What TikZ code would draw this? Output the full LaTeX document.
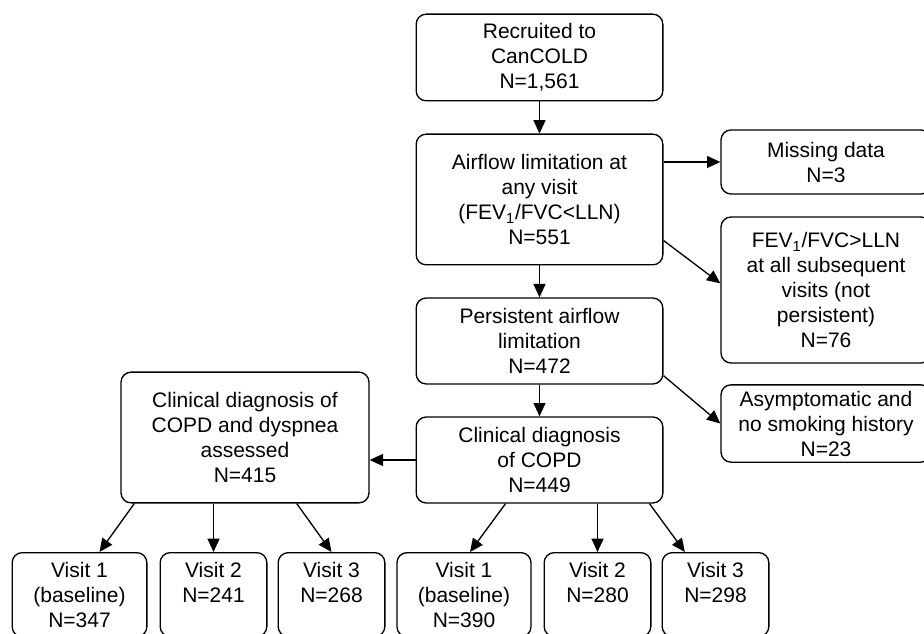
\documentclass[tikz,border=0pt]{standalone}
\usepackage{fontspec}
\setmainfont{Liberation Sans}
\usetikzlibrary{arrows.meta}

\begin{document}
\begin{tikzpicture}[x=0.75pt,y=0.75pt,yscale=-1,xscale=1,
  box/.style={draw, line width=1pt, rounded corners=7.5pt, align=center,
    font=\fontsize{15.75}{18.75}\selectfont, inner sep=2pt},
  visitbox/.style={box, anchor=north, inner ysep=7pt},
  arr/.style={line width=1pt, -{Triangle[length=10pt,width=9pt]}}]

\useasboundingbox (0,0) rectangle (924,634);

\node (recruit) at (539.5,57.5) [box, minimum width=185pt, minimum height=65pt] {Recruited to\\CanCOLD\\N=1,561};
\node (airflow) at (539.5,199.5) [box, minimum width=185pt, minimum height=98pt] {Airflow limitation at\\any visit\\(FEV\textsubscript{1}/FVC<LLN)\\N=551};
\node (persist) at (539.5,341) [box, minimum width=185pt, minimum height=64.5pt] {Persistent airflow\\limitation\\N=472};
\node (copd) at (539.5,460) [box, minimum width=185pt, minimum height=64.5pt] {Clinical diagnosis\\of COPD\\N=449};
\node (dysp) at (245,437.5) [box, minimum width=186pt, minimum height=98pt] {Clinical diagnosis of\\COPD and dyspnea\\assessed\\N=415};

\node (missing) at (826,162) [box, minimum width=157.5pt, minimum height=48pt] {Missing data\\N=3};
\node (fev) at (826,290) [box, minimum width=157.5pt, minimum height=109.5pt] {FEV\textsubscript{1}/FVC>LLN\\at all subsequent\\visits (not\\persistent)\\N=76};
\node (asym) at (826,423.5) [box, minimum width=157.5pt, minimum height=58pt] {Asymptomatic and\\no smoking history\\N=23};

\node (v1a) at (79.5,552) [visitbox, minimum width=101pt] {Visit 1\\(baseline)\\N=347};
\node (v2a) at (213.5,552) [visitbox, minimum width=80pt] {Visit 2\\N=241\\\mbox{}};
\node (v3a) at (331.5,552) [visitbox, minimum width=80pt] {Visit 3\\N=268\\\mbox{}};
\node (v1b) at (464,552) [visitbox, minimum width=100.5pt] {Visit 1\\(baseline)\\N=390};
\node (v2b) at (597.5,552) [visitbox, minimum width=80pt] {Visit 2\\N=280\\\mbox{}};
\node (v3b) at (715.5,552) [visitbox, minimum width=80pt] {Visit 3\\N=298\\\mbox{}};

\draw [arr] (recruit) -- (airflow);
\draw [arr] (airflow) -- (persist);
\draw [arr] (persist) -- (copd);
\draw [arr] (airflow.east |- missing.west) -- (missing.west);
\draw [arr] ([yshift=-18.75pt]airflow.south east) -- ([yshift=-5pt]fev.west);
\draw [arr] ([yshift=-6.75pt]persist.south east) -- (asym.west);
\draw [arr] (copd.west) -- (copd.west -| dysp.east);

\draw [arr] ([xshift=10.5pt]dysp.south west) -- ([xshift=15pt]v1a.north);
\draw [arr] (dysp.south -| v2a.north) -- (v2a.north);
\draw [arr] ([xshift=-54.75pt]dysp.south east) -- (v3a.north);
\draw [arr] ([xshift=67.5pt]copd.south west) -- ([xshift=4.5pt]v1b.north);
\draw [arr] (copd.south -| v2b.north) -- (v2b.north);
\draw [arr] ([xshift=-10.5pt]copd.south east) -- ([xshift=-23pt]v3b.north);

\end{tikzpicture}
\end{document}
